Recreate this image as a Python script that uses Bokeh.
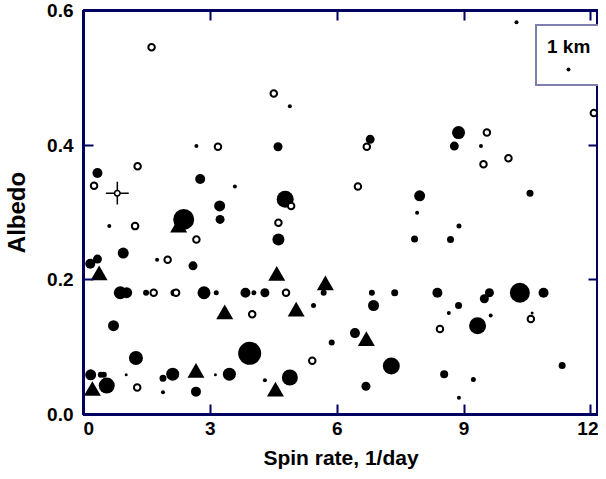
from bokeh.plotting import figure
from bokeh.models import LinearAxis, FixedTicker, Legend, LegendItem, ColumnDataSource
from bokeh.embed import file_html
from bokeh.resources import INLINE

# ---------------- data ----------------
x_ticks = [0, 3, 6, 9, 12]
y_ticks = [0.0, 0.2, 0.4, 0.6]
x_title = "Spin rate, 1/day"
y_title = "Albedo"
legend_title = "1 km"

# filled circles: spin rate (1/day), albedo, diameter (km)
filled_spin = [10.24, 4.88, 8.87, 8.77, 9.40, 6.78, 4.60, 2.67, 0.33, 2.76,
               3.58, 10.56, 7.95, 4.77, 3.22, 3.23, 2.37, 0.61, 7.89, 8.88,
               4.61, 7.83, 8.68, 0.94, 0.33, 0.16, 1.74, 2.59,
               0.87, 1.02, 1.48, 2.14, 2.85, 3.14, 3.83, 4.03, 4.29, 5.68,
               6.82, 7.36, 8.37, 9.60, 9.48, 10.32, 10.88,
               5.44, 6.86, 8.87, 8.64, 9.63, 10.61, 9.32, 0.71, 6.42, 5.87,
               3.93, 1.24, 7.28, 11.32,
               0.17, 0.41, 0.48, 1.01, 1.88, 2.11, 3.12, 3.45, 4.29, 4.88,
               8.53, 9.22, 0.55, 1.88, 2.66, 6.68, 8.88]
filled_albedo = [0.583, 0.458, 0.419, 0.399, 0.399, 0.409, 0.398, 0.399, 0.359, 0.350,
                 0.339, 0.329, 0.325, 0.320, 0.310, 0.290, 0.290, 0.280, 0.300, 0.280,
                 0.260, 0.261, 0.260, 0.240, 0.231, 0.224, 0.230, 0.221,
                 0.181, 0.181, 0.181, 0.181, 0.181, 0.181, 0.181, 0.181, 0.181, 0.181,
                 0.181, 0.181, 0.181, 0.181, 0.172, 0.181, 0.181,
                 0.162, 0.162, 0.162, 0.151, 0.147, 0.151, 0.132, 0.132, 0.121, 0.107,
                 0.091, 0.084, 0.072, 0.073,
                 0.059, 0.059, 0.059, 0.059, 0.054, 0.060, 0.059, 0.060, 0.051, 0.055,
                 0.060, 0.052, 0.043, 0.033, 0.034, 0.042, 0.025]
filled_diam_km = [1.0, 1.0, 3.25, 2.25, 1.0, 2.25, 2.25, 1.0, 2.5, 2.5,
                  1.0, 1.75, 2.75, 4.25, 2.75, 2.25, 5.25, 1.0, 1.0, 1.25,
                  3.0, 1.75, 1.75, 2.75, 2.25, 2.5, 1.0, 2.25,
                  3.25, 2.75, 1.5, 1.75, 3.25, 1.25, 2.5, 1.25, 2.25, 1.5,
                  1.5, 1.75, 2.5, 2.25, 2.25, 5.0, 2.5,
                  1.25, 2.75, 1.75, 1.0, 1.0, 0.75, 4.25, 2.75, 2.5, 1.5,
                  5.75, 3.5, 4.25, 1.75,
                  2.75, 1.5, 1.5, 0.75, 1.75, 3.25, 0.75, 3.25, 1.0, 4.0,
                  2.0, 1.25, 4.0, 1.0, 2.5, 2.25, 1.0]

# open circles (no diameter)
open_spin = [1.61, 4.50, 12.07, 9.54, 9.46, 10.05, 6.70, 3.18, 1.28, 0.25,
             6.49, 4.91, 4.61, 1.22, 2.67, 1.99, 1.66, 2.19, 4.79, 3.99,
             10.58, 8.43, 5.41, 1.27]
open_albedo = [0.546, 0.477, 0.448, 0.419, 0.372, 0.381, 0.398, 0.398, 0.369, 0.340,
               0.339, 0.310, 0.285, 0.280, 0.260, 0.230, 0.181, 0.181, 0.181, 0.149,
               0.142, 0.127, 0.080, 0.040]

# triangles
tri_spin = [0.37, 4.57, 5.72, 2.25, 3.34, 5.03, 6.69, 2.66, 0.21, 4.54]
tri_albedo = [0.207, 0.206, 0.192, 0.278, 0.149, 0.153, 0.109, 0.062, 0.035, 0.034]

# open circle with error bars
err_spin = [0.80]
err_albedo = [0.329]
err_spin_sd = [0.27]
err_albedo_sd = [0.017]

# ---------------- styling ----------------
FONT = "Liberation Sans"
FRAME_INK = "#000060"
PX_PER_KM = 4.0

p = figure(width=598, height=471, x_range=(0, 12.18), y_range=(0, 0.6005),
           output_backend="svg", toolbar_location=None,
           min_border_left=79, min_border_right=0, min_border_top=10, min_border_bottom=52)
p.xgrid.grid_line_color = None
p.ygrid.grid_line_color = None
p.outline_line_color = FRAME_INK
p.outline_line_width = 3
p.background_fill_color = None
p.border_fill_color = None

p.add_layout(LinearAxis(), "above")
p.add_layout(LinearAxis(), "right")

for ax in p.xaxis:
    ax.ticker = FixedTicker(ticks=x_ticks)
for ax in p.yaxis:
    ax.ticker = FixedTicker(ticks=y_ticks)

for ax in list(p.xaxis) + list(p.yaxis):
    ax.axis_line_width = 3
    ax.axis_line_color = FRAME_INK
    ax.major_tick_line_width = 2
    ax.major_tick_line_color = FRAME_INK
    ax.major_tick_in = 10
    ax.major_tick_out = 0
    ax.minor_tick_line_color = None
    ax.major_label_text_font = FONT
    ax.major_label_text_font_style = "bold"
    ax.major_label_text_font_size = "19px"
    ax.major_label_text_color = "black"

for ax in [p.above[0], p.right[0]]:
    ax.major_label_text_font_size = "1px"
    ax.major_label_text_color = None
    ax.major_label_standoff = 0

xa = p.below[0]
ya = p.left[0]
xa.axis_label = x_title
ya.axis_label = y_title
xa.major_label_standoff = 3
ya.major_label_standoff = 10
xa.axis_label_standoff = 4
ya.axis_label_standoff = 14
xa.axis_label_text_line_height = 1.0
for ax, fs in [(xa, "21px"), (ya, "24px")]:
    ax.axis_label_text_font = FONT
    ax.axis_label_text_font_style = "bold"
    ax.axis_label_text_font_size = fs
    ax.axis_label_text_color = "black"

xa.major_label_overrides = {0: "\u00a0\u00a00"}
ya.major_label_overrides = {0: "0.0"}

# ---------------- glyphs ----------------
src_f = ColumnDataSource(dict(x=filled_spin, y=filled_albedo,
                              s=[d * PX_PER_KM for d in filled_diam_km]))
r_filled = p.scatter("x", "y", size="s", source=src_f, marker="circle",
                     fill_color="black", line_color=None)

p.scatter(tri_spin, tri_albedo, marker="triangle", size=17,
          fill_color="black", line_color=None)

p.segment(x0=[a - b for a, b in zip(err_spin, err_spin_sd)], y0=err_albedo,
          x1=[a + b for a, b in zip(err_spin, err_spin_sd)], y1=err_albedo,
          line_color="black", line_width=1.5)
p.segment(x0=err_spin, y0=[a - b for a, b in zip(err_albedo, err_albedo_sd)],
          x1=err_spin, y1=[a + b for a, b in zip(err_albedo, err_albedo_sd)],
          line_color="black", line_width=1.5)
p.scatter(err_spin, err_albedo, marker="circle", size=5.5, fill_color="white",
          line_color="black", line_width=1.5)

p.scatter(open_spin, open_albedo, marker="circle", size=6.5, fill_color="white",
          line_color="black", line_width=2)

# ---------------- size key ----------------
legend = Legend(items=[LegendItem(label="\u00a0", renderers=[r_filled])],
                title=legend_title, location=(452, 328))
legend.title_text_font = FONT
legend.title_text_font_style = "bold"
legend.title_text_font_size = "19px"
legend.title_text_color = "black"
legend.title_standoff = 6
legend.label_text_font_size = "1px"
legend.label_width = 0
legend.label_height = 0
legend.label_standoff = 0
legend.glyph_width = 42
legend.glyph_height = 10
legend.padding = 10
legend.margin = 0
legend.spacing = 0
legend.border_line_color = FRAME_INK
legend.border_line_width = 2
legend.background_fill_color = "white"
legend.background_fill_alpha = 1.0
p.add_layout(legend, "center")

open("out.html", "w").write(file_html(p, INLINE))
